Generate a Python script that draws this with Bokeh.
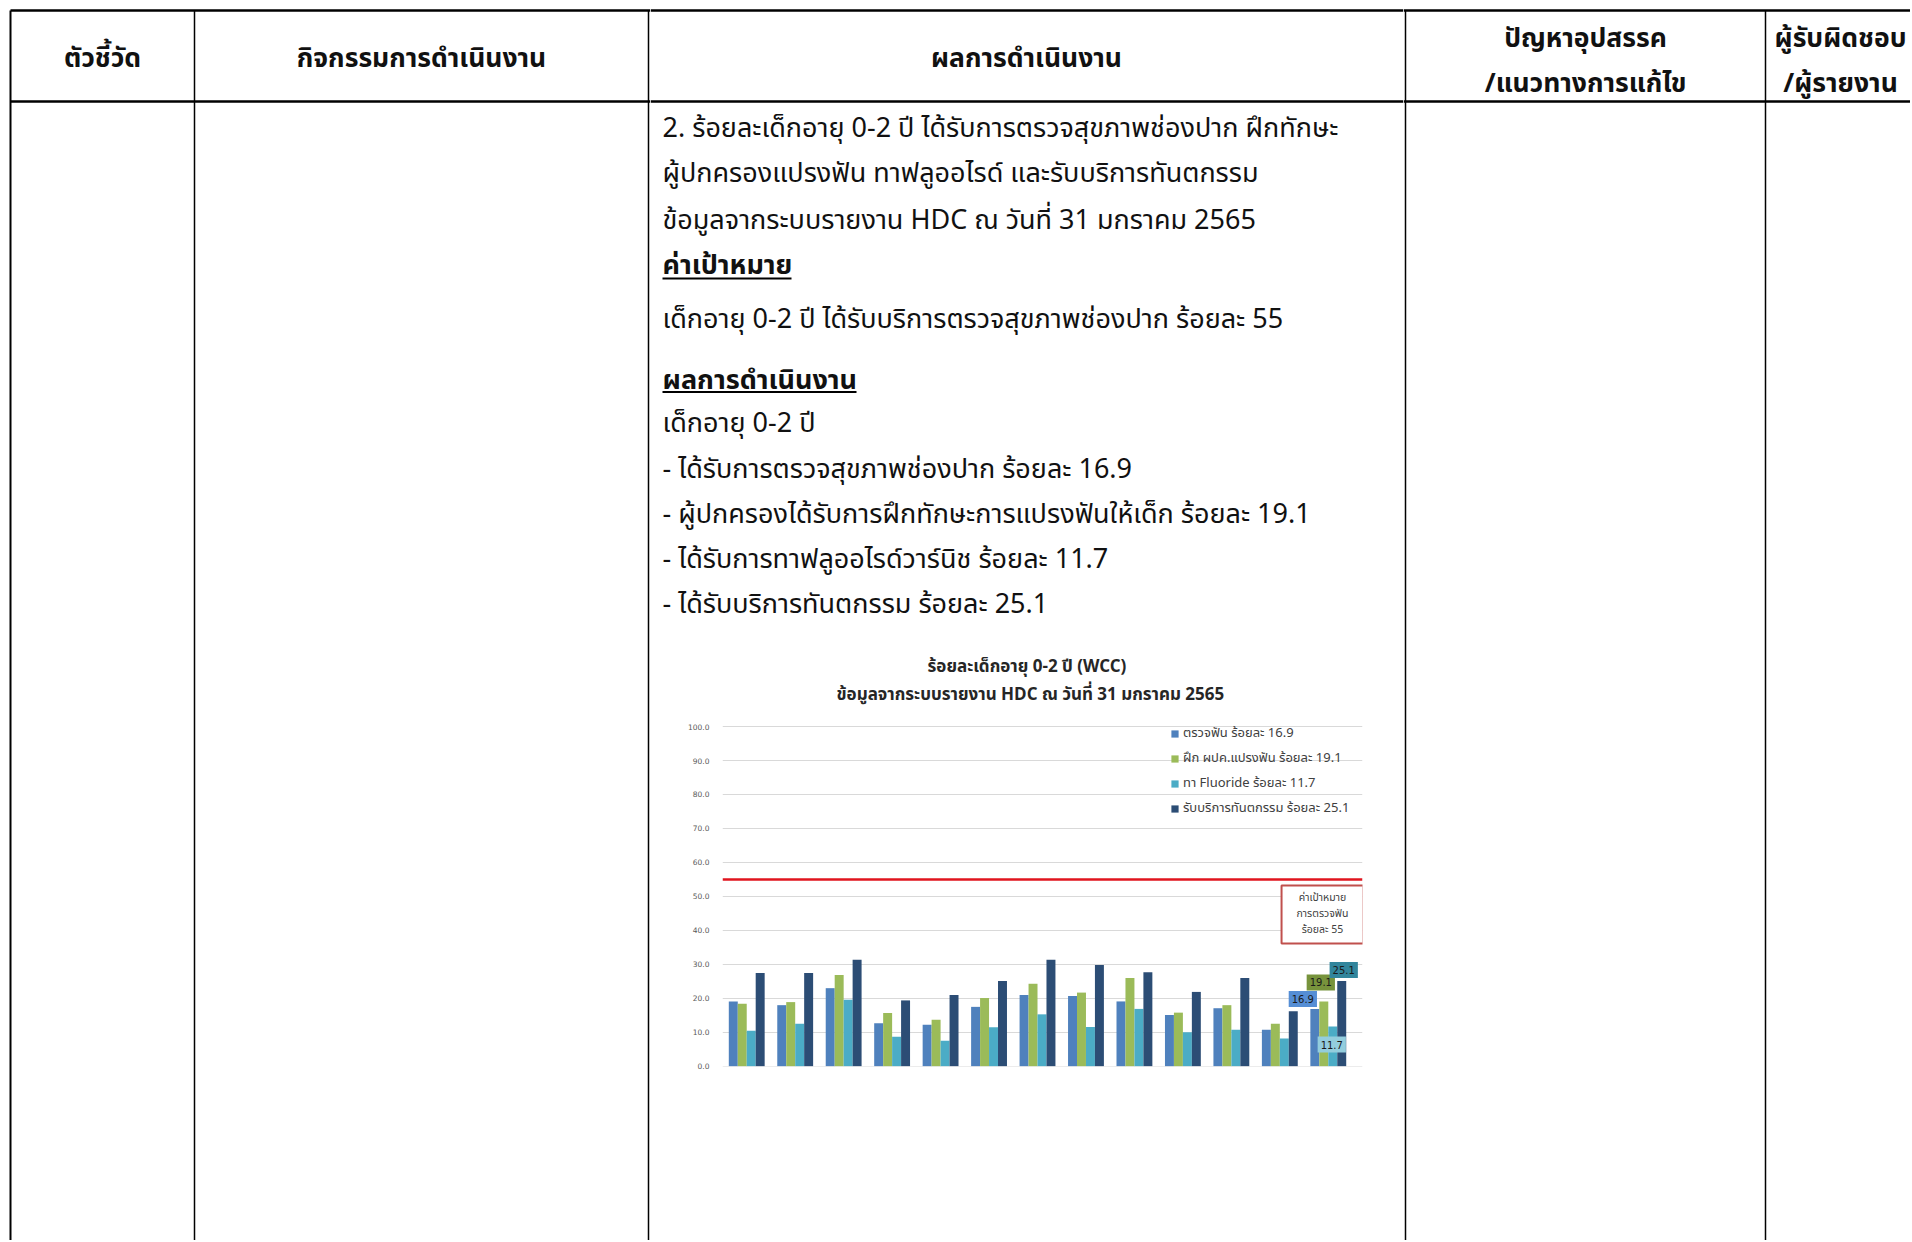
from bokeh.plotting import figure
from bokeh.models import (Range1d, Span, Label, Legend, LegendItem,
                          FixedTicker, NumeralTickFormatter, Title, ColumnDataSource)
from bokeh.layouts import row, column
from bokeh.transform import dodge
from bokeh.core.properties import value
from bokeh.embed import file_html
from bokeh.resources import INLINE

# ---------------- data ----------------
GROUPS = [str(i) for i in range(1, 14)]
SERIES = ["ตรวจฟัน", "ฝึก ผปค.แปรงฟัน", "ทา Fluoride", "รับบริการทันตกรรม"]
CHECK = [19.1, 18.0, 23.0, 12.7, 12.2, 17.5, 21.0, 20.7, 19.1, 15.1, 17.1, 10.8, 16.9]
BRUSH = [18.4, 18.9, 26.9, 15.7, 13.7, 20.1, 24.3, 21.7, 26.0, 15.8, 18.0, 12.5, 19.1]
FLUORIDE = [10.5, 12.5, 19.6, 8.7, 7.5, 11.5, 15.3, 11.6, 16.9, 10.0, 10.8, 8.2, 11.7]
TREAT = [27.5, 27.5, 31.4, 19.4, 21.0, 25.1, 31.4, 29.8, 27.7, 21.9, 26.0, 16.2, 25.1]
TARGET = 55
Y_TICKS = [0, 10, 20, 30, 40, 50, 60, 70, 80, 90, 100]

TITLE1 = "ร้อยละเด็กอายุ 0-2 ปี (WCC)"
TITLE2 = "ข้อมูลจากระบบรายงาน HDC ณ วันที่ 31 มกราคม 2565"

HEAD = ["ตัวชี้วัด", "กิจกรรมการดำเนินงาน", "ผลการดำเนินงาน",
        "ปัญหาอุปสรรค", "/แนวทางการแก้ไข", "ผู้รับผิดชอบ", "/ผู้รายงาน"]
BODY = [
    "2. ร้อยละเด็กอายุ 0-2 ปี ได้รับการตรวจสุขภาพช่องปาก  ฝึกทักษะ",
    "ผู้ปกครองแปรงฟัน ทาฟลูออไรด์ และรับบริการทันตกรรม",
    "ข้อมูลจากระบบรายงาน HDC  ณ วันที่ 31 มกราคม 2565",
    "ค่าเป้าหมาย",
    "เด็กอายุ 0-2 ปี ได้รับบริการตรวจสุขภาพช่องปาก ร้อยละ 55",
    "ผลการดำเนินงาน",
    "เด็กอายุ 0-2 ปี",
    "- ได้รับการตรวจสุขภาพช่องปาก ร้อยละ 16.9",
    "- ผู้ปกครองได้รับการฝึกทักษะการแปรงฟันให้เด็ก ร้อยละ 19.1",
    "- ได้รับการทาฟลูออไรด์วาร์นิช ร้อยละ 11.7",
    "- ได้รับบริการทันตกรรม ร้อยละ 25.1",
]

# ---------------- styles ----------------
THAI = "Noto Sans Thai, Noto Sans, sans-serif"
COLORS = ["#4f81bd", "#9bbb59", "#4bacc6", "#2c4d75"]
LABEL_FILLS = ["#558ed5", "#77933c", "#93cddd", "#31859c"]
LABEL_OFFS = [(-12, -10), (-3, -19), (-1, 18), (2, -11)]
BAR_W = 0.185
DODGES = [-1.5 * BAR_W, -0.5 * BAR_W, 0.5 * BAR_W, 1.5 * BAR_W]
X_EXTRA = 0.206   # frame reaches a bit past the last group (target line / box)
Y_TOP = 105.6     # room above the 100 gridline for the titles


def blank(w, h):
    f = figure(width=w, height=h, x_range=Range1d(0, w), y_range=Range1d(h, 0),
               toolbar_location=None, output_backend="svg", min_border=0,
               x_axis_location=None, y_axis_location=None, frame_align=False)
    f.grid.visible = False
    f.outline_line_color = None
    return f


def seg(f, x0, y0, x1, y1, w=1.5):
    f.segment(x0=[x0], y0=[y0], x1=[x1], y1=[y1], line_color="black", line_width=w)


def txt(f, x, y, s, size, bold=False, align="left", color="#111111"):
    f.text(x=[x], y=[y], text=[s], text_font=value(THAI), text_font_size=size,
           text_font_style="bold" if bold else "normal", text_align=align,
           text_baseline="alphabetic", text_color=color)


H_TOTAL = 1240
HEAD_SIZE = "26.5px"
BODY_SIZE = "27px"

# ---- left part (columns 1-2) ----
A = blank(650, H_TOTAL)
seg(A, 10, 10, 650, 10, 2.5)
seg(A, 10, 101, 650, 101, 2.5)
seg(A, 10, 10, 10, H_TOTAL, 2)
seg(A, 194, 10, 194, H_TOTAL)
seg(A, 648, 10, 648, H_TOTAL)
txt(A, 102, 58, HEAD[0], HEAD_SIZE, True, "center")
txt(A, 421, 58, HEAD[1], HEAD_SIZE, True, "center")

# ---- middle top (column 3 text) ----
B1 = blank(753, 645)
seg(B1, 0, 10, 753, 10, 2.5)
seg(B1, 0, 101, 753, 101, 2.5)
txt(B1, 376, 58, HEAD[2], HEAD_SIZE, True, "center")
BASE = [128.3, 173.4, 219.7, 264.7, 318.5, 379.5, 423.4, 468.5, 513.6, 558.7, 603.7]
for i, (s, yb) in enumerate(zip(BODY, BASE)):
    txt(B1, 12, yb, s, BODY_SIZE, i in (3, 5))
seg(B1, 12, 278, 141, 278, 2)
seg(B1, 12, 391.4, 206, 391.4, 2)

# ---- chart ----
p = figure(width=753, height=440, x_range=Range1d(0, len(GROUPS) + X_EXTRA),
           y_range=Range1d(-0.05, Y_TOP),
           toolbar_location=None, output_backend="svg", frame_align=False,
           min_border_left=72, min_border_right=41, min_border_top=62, min_border_bottom=19)
p.outline_line_color = None
p.xaxis.visible = False
p.xgrid.visible = False
p.ygrid.grid_line_color = "#d9d9d9"
p.ygrid.grid_line_width = 1
p.yaxis.ticker = FixedTicker(ticks=Y_TICKS)
p.ygrid.ticker = FixedTicker(ticks=Y_TICKS)
p.yaxis.formatter = NumeralTickFormatter(format="0.0")
p.yaxis.axis_line_color = None
p.yaxis.major_tick_line_color = None
p.yaxis.minor_tick_line_color = None
p.yaxis.major_label_text_font_size = "7.5px"
p.yaxis.major_label_text_color = "#595959"
p.yaxis.major_label_text_font = "DejaVu Sans"
p.yaxis.major_label_standoff = 7

p.add_layout(Title(text=TITLE2, align="left", offset=114, text_font=THAI, text_font_size="17px",
                   text_font_style="bold", text_color="#262626", standoff=0), "above")
p.add_layout(Title(text=TITLE1, align="left", offset=205, text_font=THAI, text_font_size="17px",
                   text_font_style="bold", text_color="#262626", standoff=0), "above")

xc = [i + 0.5 for i in range(len(GROUPS))]
src = ColumnDataSource(dict(g=GROUPS, xc=xc, s0=CHECK, s1=BRUSH, s2=FLUORIDE, s3=TREAT))
series_vals = [CHECK, BRUSH, FLUORIDE, TREAT]
items = []
for j in range(4):
    r = p.vbar(x=dodge("xc", DODGES[j]), top=f"s{j}", width=BAR_W,
               source=src, fill_color=COLORS[j], line_color=None)
    items.append(LegendItem(label=f"{SERIES[j]} ร้อยละ {series_vals[j][-1]:.1f}", renderers=[r]))

p.add_layout(Span(location=TARGET, dimension="width", line_color="#e0141e", line_width=2.5))

legend = Legend(items=items, location=(448, 247), margin=0, padding=0,
                label_text_font=THAI, label_text_font_size="13px", label_text_color="#404040",
                glyph_width=9, glyph_height=9, label_height=22, spacing=3, label_standoff=4,
                background_fill_alpha=0, border_line_color=None)
p.add_layout(legend)

# data labels on the last group
for j in range(4):
    v = series_vals[j][-1]
    ls = ColumnDataSource(dict(xc=[xc[-1]], v=[v], t=[f"{v:.1f}"]))
    p.text(x=dodge("xc", DODGES[j]), y="v", text="t", source=ls,
           x_offset=LABEL_OFFS[j][0], y_offset=LABEL_OFFS[j][1],
           text_align="center", text_baseline="middle", text_font=value("DejaVu Sans"),
           text_font_size="10px", text_color="#1a1a1a",
           background_fill_color=LABEL_FILLS[j],
           padding=dict(left=3, right=3, top=4, bottom=4))

box = Label(x=12.38, y=44.7, text=f"ค่าเป้าหมาย\nการตรวจฟัน\nร้อยละ {TARGET}",
            text_align="center", text_baseline="middle", text_font=THAI,
            text_font_size="10.5px", text_color="#404040", text_line_height=1.0,
            border_line_color="#c0504d", border_line_width=2,
            background_fill_color="white", padding=dict(left=15, right=15, top=5, bottom=5))
p.add_layout(box)

B3 = blank(753, H_TOTAL - 645 - 440)

# ---- right part (columns 4-5) ----
C = blank(507, H_TOTAL)
seg(C, 0, 10, 507, 10, 2.5)
seg(C, 0, 101, 507, 101, 2.5)
seg(C, 2, 10, 2, H_TOTAL)
seg(C, 362, 10, 362, H_TOTAL)
txt(C, 182, 38, HEAD[3], HEAD_SIZE, True, "center")
txt(C, 182, 83, HEAD[4], HEAD_SIZE, True, "center")
txt(C, 437, 38, HEAD[5], HEAD_SIZE, True, "center")
txt(C, 437, 83, HEAD[6], HEAD_SIZE, True, "center")

layout = row(A, column(B1, p, B3), C)
open("out.html", "w").write(file_html(layout, INLINE))
